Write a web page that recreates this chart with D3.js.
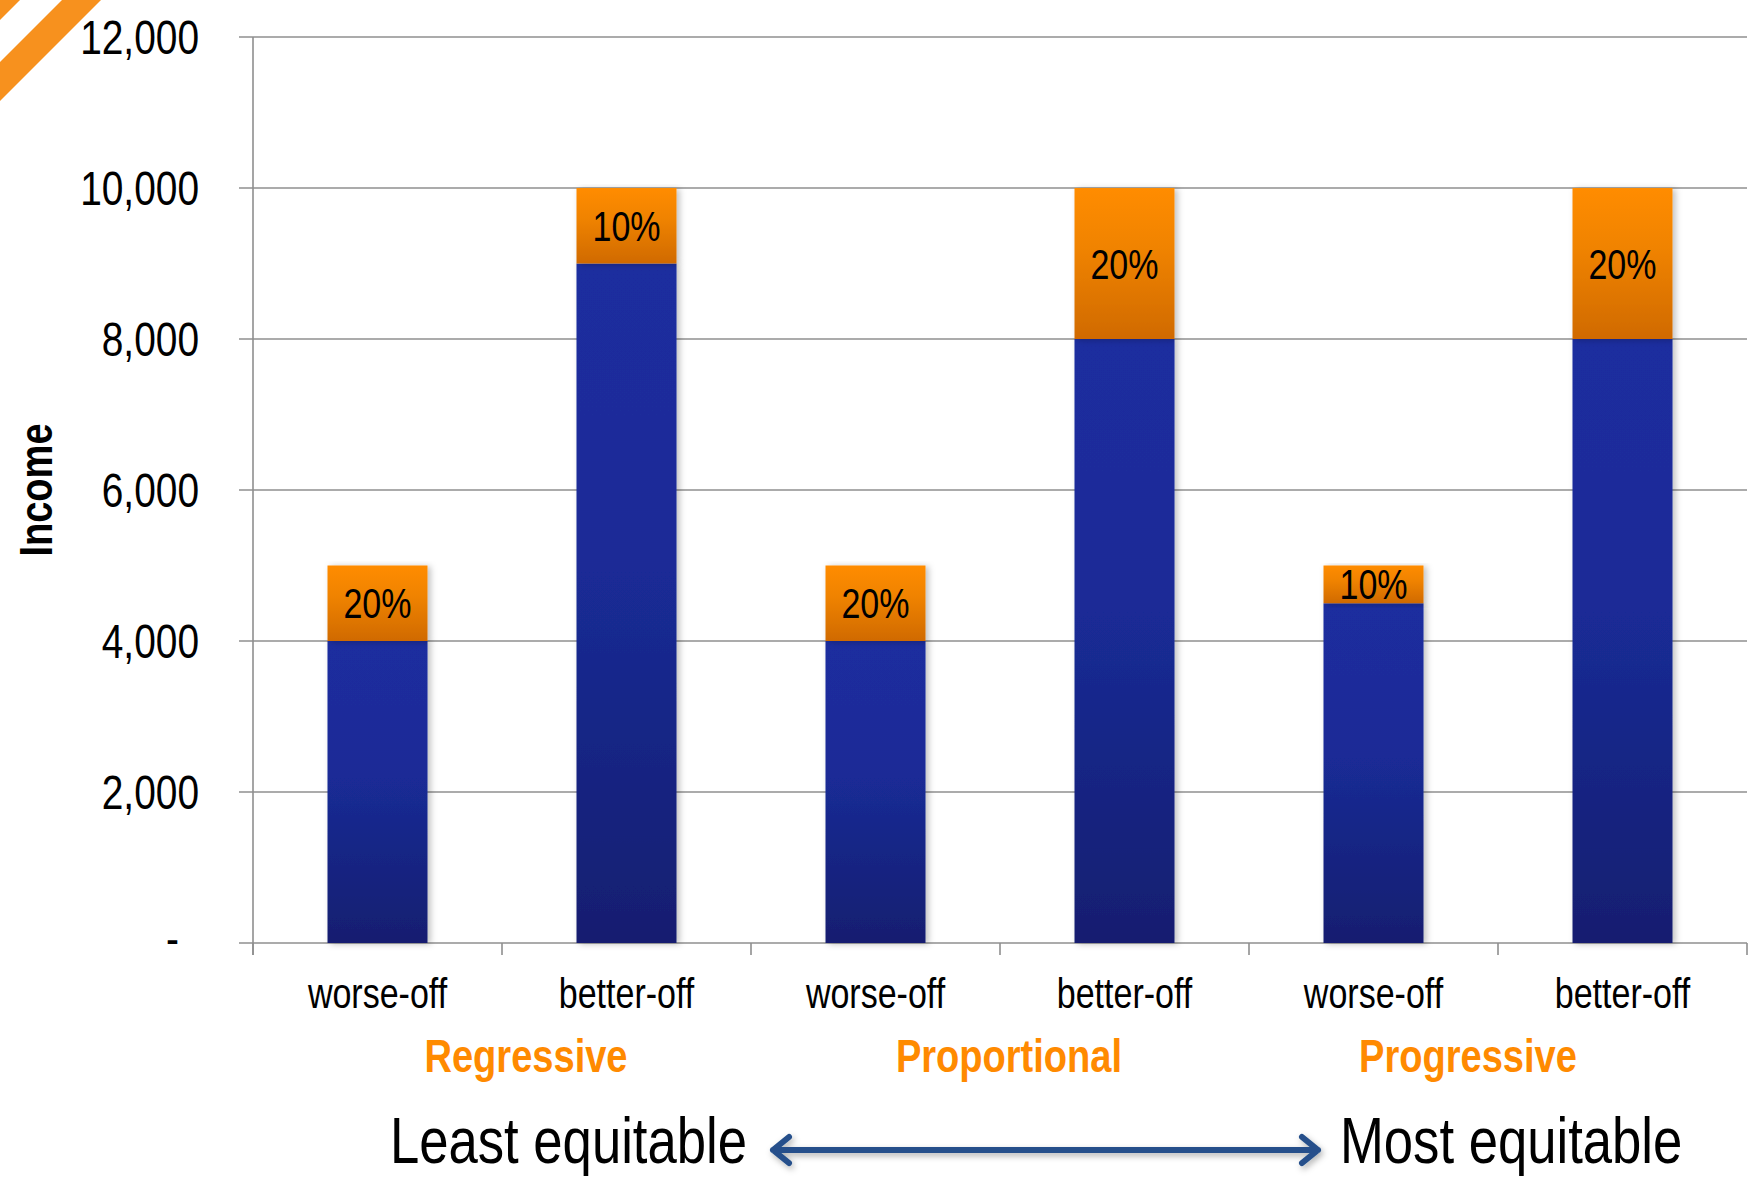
<!DOCTYPE html>
<html>
<head>
<meta charset="utf-8">
<script src="https://cdn.jsdelivr.net/npm/d3@7"></script>
<style>
  html, body { margin: 0; padding: 0; background: #ffffff; }
  svg { display: block; }
  text { font-family: 'Liberation Sans Narrow', 'Arial Narrow', 'Liberation Sans', Arial, sans-serif; }
</style>
</head>
<body>
<svg id="chart" width="1758" height="1182"></svg>
<script>
// ---- data ----
const categories = ["worse-off", "better-off", "worse-off", "better-off", "worse-off", "better-off"];
const groups = ["Regressive", "Proportional", "Progressive"];
const netIncome = [4000, 9000, 4000, 8000, 4500, 8000];
const taxPaid = [1000, 1000, 1000, 2000, 500, 2000];
const taxRateLabels = ["20%", "10%", "20%", "20%", "10%", "20%"];
const yTicks = [0, 2000, 4000, 6000, 8000, 10000, 12000];
const yAxisTitle = "Income";
const leftCaption = "Least equitable";
const rightCaption = "Most equitable";

// ---- layout ----
const W = 1758, H = 1182;
const plot = { left: 253, right: 1747, top: 37, bottom: 943 };
const groupLabelShift = [24, 9, -30];
const NARROW = 0.81;

const svg = d3.select("#chart");

const x = d3.scaleBand()
  .domain(d3.range(categories.length))
  .range([plot.left, plot.right])
  .paddingInner(0).paddingOuter(0);

const y = d3.scaleLinear()
  .domain([0, 12000])
  .range([plot.bottom, plot.top]);

// defs: gradients + shadow
const defs = svg.append("defs");
const gBlue = defs.append("linearGradient").attr("id", "gBlue")
  .attr("x1", 0).attr("y1", 0).attr("x2", 0).attr("y2", 1);
gBlue.append("stop").attr("offset", "0%").attr("stop-color", "#1b2d9f");
gBlue.append("stop").attr("offset", "45%").attr("stop-color", "#1a2b96");
gBlue.append("stop").attr("offset", "100%").attr("stop-color", "#141e70");
const gOrange = defs.append("linearGradient").attr("id", "gOrange")
  .attr("x1", 0).attr("y1", 0).attr("x2", 0).attr("y2", 1);
gOrange.append("stop").attr("offset", "0%").attr("stop-color", "#ff8c00");
gOrange.append("stop").attr("offset", "40%").attr("stop-color", "#f08300");
gOrange.append("stop").attr("offset", "100%").attr("stop-color", "#d06a00");
const shadow = defs.append("filter").attr("id", "shadow")
  .attr("x", "-20%").attr("y", "-5%").attr("width", "150%").attr("height", "115%");
shadow.append("feDropShadow").attr("dx", 3).attr("dy", 1).attr("stdDeviation", 3)
  .attr("flood-color", "#000").attr("flood-opacity", 0.25);
const arrowShadow = defs.append("filter").attr("id", "ashadow")
  .attr("x", "-5%").attr("y", "-100%").attr("width", "110%").attr("height", "300%");
arrowShadow.append("feDropShadow").attr("dx", 2).attr("dy", 3).attr("stdDeviation", 3)
  .attr("flood-color", "#000").attr("flood-opacity", 0.3);

// decorative corner stripes
svg.append("path").attr("d", "M0,0 L20,0 L0,20 Z").attr("fill", "#f7911e");
svg.append("path").attr("d", "M62,0 L101,0 L0,101 L0,62 Z").attr("fill", "#f7911e");

// gridlines
svg.append("g").selectAll("line").data(yTicks).join("line")
  .attr("x1", plot.left - 14).attr("x2", plot.right)
  .attr("y1", d => y(d)).attr("y2", d => y(d))
  .attr("stroke", "#8f8f8f").attr("stroke-width", 1.6);

// y axis line
svg.append("line")
  .attr("x1", plot.left).attr("x2", plot.left)
  .attr("y1", plot.top).attr("y2", plot.bottom + 12)
  .attr("stroke", "#8f8f8f").attr("stroke-width", 1.6);

// x category boundary ticks
const bounds = d3.range(categories.length + 1).map(i => plot.left + i * x.step());
svg.append("g").selectAll("line").data(bounds).join("line")
  .attr("x1", d => d).attr("x2", d => d)
  .attr("y1", plot.bottom).attr("y2", plot.bottom + 12)
  .attr("stroke", "#8f8f8f").attr("stroke-width", 1.6);

// y tick labels
svg.append("g").selectAll("text").data(yTicks).join("text")
  .attr("x", d => d === 0 ? 179 : 199)
  .attr("y", d => y(d))
  .attr("dy", d => d === 0 ? "0.25em" : "0.36em")
  .attr("text-anchor", "end")
  .attr("font-size", 48)
  .attr("fill", "#000")
  .text(d => d === 0 ? "-" : d3.format(",")(d));

// y axis title
const yTitle = svg.append("text")
  .attr("class", "rot")
  .attr("transform", "translate(52,490) rotate(-90)")
  .attr("text-anchor", "middle")
  .attr("font-size", 47).attr("font-weight", "bold")
  .text(yAxisTitle);

// bars
const barW = 100;
const bars = svg.append("g");
const idx = d3.range(categories.length);
bars.selectAll("rect.net").data(idx).join("rect")
  .attr("class", "net")
  .attr("x", i => x(i) + (x.bandwidth() - barW) / 2)
  .attr("width", barW)
  .attr("y", i => y(netIncome[i]))
  .attr("height", i => y(0) - y(netIncome[i]))
  .attr("fill", "url(#gBlue)")
  .attr("filter", "url(#shadow)");
bars.selectAll("rect.tax").data(idx).join("rect")
  .attr("class", "tax")
  .attr("x", i => x(i) + (x.bandwidth() - barW) / 2)
  .attr("width", barW)
  .attr("y", i => y(netIncome[i] + taxPaid[i]))
  .attr("height", i => y(netIncome[i]) - y(netIncome[i] + taxPaid[i]))
  .attr("fill", "url(#gOrange)")
  .attr("filter", "url(#shadow)");

// tax rate labels
svg.append("g").selectAll("text").data(idx).join("text")
  .attr("x", i => x(i) + x.bandwidth() / 2)
  .attr("y", i => (y(netIncome[i]) + y(netIncome[i] + taxPaid[i])) / 2)
  .attr("dy", "0.36em")
  .attr("text-anchor", "middle")
  .attr("font-size", 42)
  .attr("fill", "#000")
  .text(i => taxRateLabels[i]);

// category labels
svg.append("g").selectAll("text").data(idx).join("text")
  .attr("x", i => x(i) + x.bandwidth() / 2)
  .attr("y", 1008)
  .attr("text-anchor", "middle")
  .attr("font-size", 42)
  .attr("fill", "#000")
  .text(i => categories[i]);

// group labels
svg.append("g").selectAll("text").data(groups).join("text")
  .attr("x", (d, g) => plot.left + (2 * g + 1) * x.step() + groupLabelShift[g])
  .attr("y", 1072)
  .attr("text-anchor", "middle")
  .attr("font-size", 47).attr("font-weight", "bold")
  .attr("fill", "#ff8a00")
  .text(d => d);

// bottom captions and arrow
svg.append("text").attr("x", 747).attr("y", 1163)
  .attr("text-anchor", "end").attr("font-size", 65).attr("fill", "#000")
  .text(leftCaption);
svg.append("text").attr("x", 1340).attr("y", 1163)
  .attr("text-anchor", "start").attr("font-size", 65).attr("fill", "#000")
  .text(rightCaption);

const ay = 1150, ax1 = 773, ax2 = 1318, ah = 16, aw = 13;
svg.append("path")
  .attr("d", `M${ax1},${ay} L${ax2},${ay} M${ax1 + ah},${ay - aw} L${ax1},${ay} L${ax1 + ah},${ay + aw} M${ax2 - ah},${ay - aw} L${ax2},${ay} L${ax2 - ah},${ay + aw}`)
  .attr("fill", "none").attr("stroke", "#25508b").attr("stroke-width", 6)
  .attr("stroke-linecap", "round").attr("stroke-linejoin", "round")
  .attr("filter", "url(#ashadow)");

// emulate a narrow (condensed) typeface when none is installed
const probe = svg.append("text").attr("font-size", 100).text("0000000000");
const narrowInstalled = probe.node().getComputedTextLength() < 500;
probe.remove();
if (!narrowInstalled) {
  svg.selectAll("text").each(function () {
    const t = d3.select(this);
    if (t.classed("rot")) {
      t.attr("transform", t.attr("transform") + ` scale(${NARROW},1)`);
    } else {
      const ax = +t.attr("x");
      t.attr("transform", `translate(${ax * (1 - NARROW)},0) scale(${NARROW},1)`);
    }
  });
}
</script>
</body>
</html>
